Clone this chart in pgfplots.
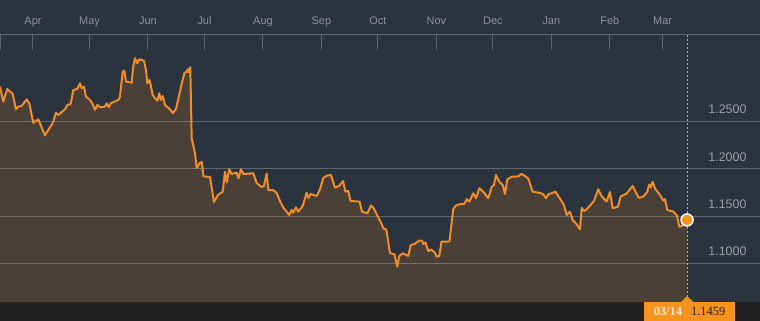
\documentclass[border=0pt]{standalone}
\usepackage{pgfplots}
\pgfplotsset{compat=1.18}
\usepackage{pgfplotstable}
\usepackage{fontspec}
\setmainfont{Liberation Sans}
\newfontfamily\boxfont{Liberation Serif}
\definecolor{bgcol}{HTML}{2B333E}
\definecolor{bandcol}{HTML}{222224}
\definecolor{fillcol}{HTML}{4A4038}
\definecolor{linecol}{HTML}{F08E2A}
\definecolor{axcol}{HTML}{5C6470}
\definecolor{monthcol}{HTML}{8C939C}
\definecolor{ylabcol}{HTML}{9AA0A8}
\definecolor{boxcol}{HTML}{F7941E}
\definecolor{dashcol}{HTML}{F0AA2C}
\definecolor{cream}{HTML}{FDE8CC}
\definecolor{darktxt}{HTML}{231F20}
\pgfplotstableread{
d v
-17.5 1.2871
-15.76 1.2712
-13.63 1.2846
-10.77 1.2793
-9.02 1.2631
-7.80 1.2659
-5.99 1.2666
-3.34 1.2737
-1.96 1.2695
0.16 1.2489
2.81 1.2525
4.08 1.2465
6.37 1.2356
9.02 1.2441
10.45 1.2483
12.20 1.2595
13.42 1.2571
16.98 1.2631
18.20 1.2677
20.00 1.2687
21.38 1.2836
23.50 1.2846
24.93 1.2907
25.84 1.2854
27.06 1.2871
28.12 1.2765
30.24 1.2730
31.67 1.2687
32.89 1.2624
34.11 1.2677
35.54 1.2653
38.20 1.2659
39.10 1.2695
40.32 1.2653
41.22 1.2695
45.25 1.2730
46.15 1.2765
47.59 1.3030
48.43 1.3040
49.34 1.2924
52.36 1.2913
53.21 1.3083
54.11 1.3172
55.33 1.3119
56.39 1.3161
58.89 1.3146
59.95 1.3048
60.64 1.2907
61.70 1.2942
62.44 1.2889
63.50 1.2783
64.72 1.2748
65.94 1.2722
67.00 1.2801
67.75 1.2730
68.81 1.2772
70.03 1.2677
72.68 1.2631
74.11 1.2592
75.86 1.2635
78.88 1.2899
80.26 1.3013
81.54 1.3030
82.07 1.3055
82.60 1.3023
83.45 1.3076
84.19 1.2324
85.94 1.2165
86.84 1.2010
88.59 1.2066
89.50 1.2073
90.45 1.1920
93.90 1.1914
96.02 1.1649
98.14 1.1724
100.64 1.1758
101.86 1.1970
102.76 1.1856
104.14 1.1996
105.30 1.1946
108.06 1.1960
109.02 1.1900
110.34 1.1996
111.67 1.1946
116.87 1.1953
118.67 1.1851
121.33 1.1808
122.55 1.1819
123.98 1.1951
124.83 1.1776
127.32 1.1776
129.28 1.1745
131.03 1.1660
132.78 1.1591
135.97 1.1512
137.24 1.1565
138.09 1.1536
139.52 1.1593
140.74 1.1547
143.07 1.1607
145.20 1.1748
146.05 1.1692
147.32 1.1734
150.50 1.1713
152.25 1.1782
154.00 1.1904
155.81 1.1928
158.09 1.1935
160.21 1.1803
162.49 1.1819
164.46 1.1872
165.78 1.1758
167.27 1.1766
168.43 1.1660
173.31 1.1653
174.53 1.1547
177.45 1.1530
179.31 1.1612
180.53 1.1591
182.49 1.1512
184.35 1.1441
185.94 1.1369
187.42 1.1358
189.39 1.1109
191.78 1.1095
193.26 1.0964
194.32 1.1077
196.29 1.1106
199.10 1.1077
200.37 1.1191
202.65 1.1207
204.77 1.1239
206.36 1.1239
207.16 1.1204
208.22 1.1220
209.71 1.1130
211.14 1.1146
213.26 1.1114
214.16 1.1070
215.54 1.1077
216.71 1.1229
220.95 1.1231
222.97 1.1575
224.40 1.1612
227.32 1.1631
228.65 1.1623
230.08 1.1678
231.46 1.1653
233.58 1.1742
235.01 1.1689
236.76 1.1795
238.88 1.1758
241.54 1.1689
243.34 1.1808
244.56 1.1829
245.62 1.1935
247.37 1.1864
249.18 1.1829
250.40 1.1734
251.62 1.1888
253.95 1.1917
257.45 1.1920
259.26 1.1946
261.00 1.1925
262.76 1.1898
265.09 1.1758
268.96 1.1745
270.71 1.1731
272.15 1.1689
273.37 1.1729
277.19 1.1758
279.57 1.1686
281.70 1.1618
283.13 1.1512
284.88 1.1547
286.31 1.1459
288.06 1.1422
290.19 1.1360
291.09 1.1586
292.31 1.1554
293.74 1.1572
297.61 1.1660
299.89 1.1784
301.70 1.1710
304.35 1.1655
306.10 1.1755
307.53 1.1583
310.34 1.1600
311.77 1.1708
314.95 1.1739
318.14 1.1819
321.37 1.1692
323.87 1.1708
325.89 1.1758
326.95 1.1835
327.69 1.1805
328.75 1.1864
329.97 1.1792
332.62 1.1724
334.37 1.1665
335.28 1.1681
336.50 1.1565
339.68 1.1547
341.64 1.1506
342.86 1.1388
344.14 1.1395
347.00 1.1459
}\fxdata
\begin{document}
\begin{tikzpicture}
\fill[bgcol] (0bp,0bp) rectangle (760bp,302bp);
\fill[bandcol] (0bp,-19bp) rectangle (760bp,0bp);
\useasboundingbox (0bp,-19bp) rectangle (760bp,302bp);
\begin{axis}[
  at={(0bp,0bp)}, anchor=south west,
  scale only axis, width=760bp, height=267bp,
  xmin=-17.5, xmax=385.7, ymin=1.0590, ymax=1.3418,
  clip=false,
  axis x line*=top,
  axis y line*=right,
  x axis line style={draw=axcol, line width=1bp, -},
  y axis line style={draw=none},
  xtick={0,30,61,91,122,153,183,214,244,275,306,334},
  xticklabels={Apr,May,Jun,Jul,Aug,Sep,Oct,Nov,Dec,Jan,Feb,Mar},
  extra x ticks={-17.5}, extra x tick labels={},
  xtick pos=upper, xticklabel pos=upper,
  tick align=inside,
  major tick length=15bp,
  xtick style={draw=axcol, line width=1bp},
  xticklabel style={font=\fontsize{11}{12}\selectfont, text=monthcol, anchor=base, yshift=10bp},
  ytick={1.10,1.15,1.20,1.25},
  yticklabels={1.1000,1.1500,1.2000,1.2500},
  ytick style={draw=none},
  yticklabel pos=right,
  yticklabel style={font=\fontsize{12.5}{14}\selectfont, text=ylabcol, anchor=base east, xshift=-10bp, yshift=7.7bp},
  /pgf/number format/assume math mode=true,
]
\addplot[fill=fillcol, draw=none] table[x=d,y=v] {\fxdata} \closedcycle;
\pgfplotsinvokeforeach{1.10,1.15,1.20,1.25}{
  \draw[white, opacity=0.25, line width=1bp] (axis cs:-17.5,#1) -- (axis cs:385.7,#1);
}
\draw[dashcol, dash pattern=on 2bp off 2bp, line width=1bp] (axis cs:347,1.3418) -- ([yshift=6bp]axis cs:347,1.0590);
\addplot[draw=linecol, line width=2bp, line join=round] table[x=d,y=v] {\fxdata};
\addplot[only marks, mark=*, mark size=6bp, mark options={fill=boxcol, draw=white, line width=1.5bp}] coordinates {(347,1.1459)};
\fill[boxcol] ([xshift=-6bp]axis cs:347,1.0590) -- ([yshift=6bp]axis cs:347,1.0590) -- ([xshift=6bp]axis cs:347,1.0590) -- cycle;
\node[fill=boxcol, minimum width=91bp, minimum height=19bp, anchor=north, xshift=2.5bp, inner sep=0pt, font=\boxfont\fontsize{12.5}{14}\selectfont] at (axis cs:347,1.0590) {\textcolor{cream}{\bfseries 03/14}\hspace{9bp}\textcolor{darktxt}{1.1459}};
\end{axis}
\end{tikzpicture}
\end{document}
